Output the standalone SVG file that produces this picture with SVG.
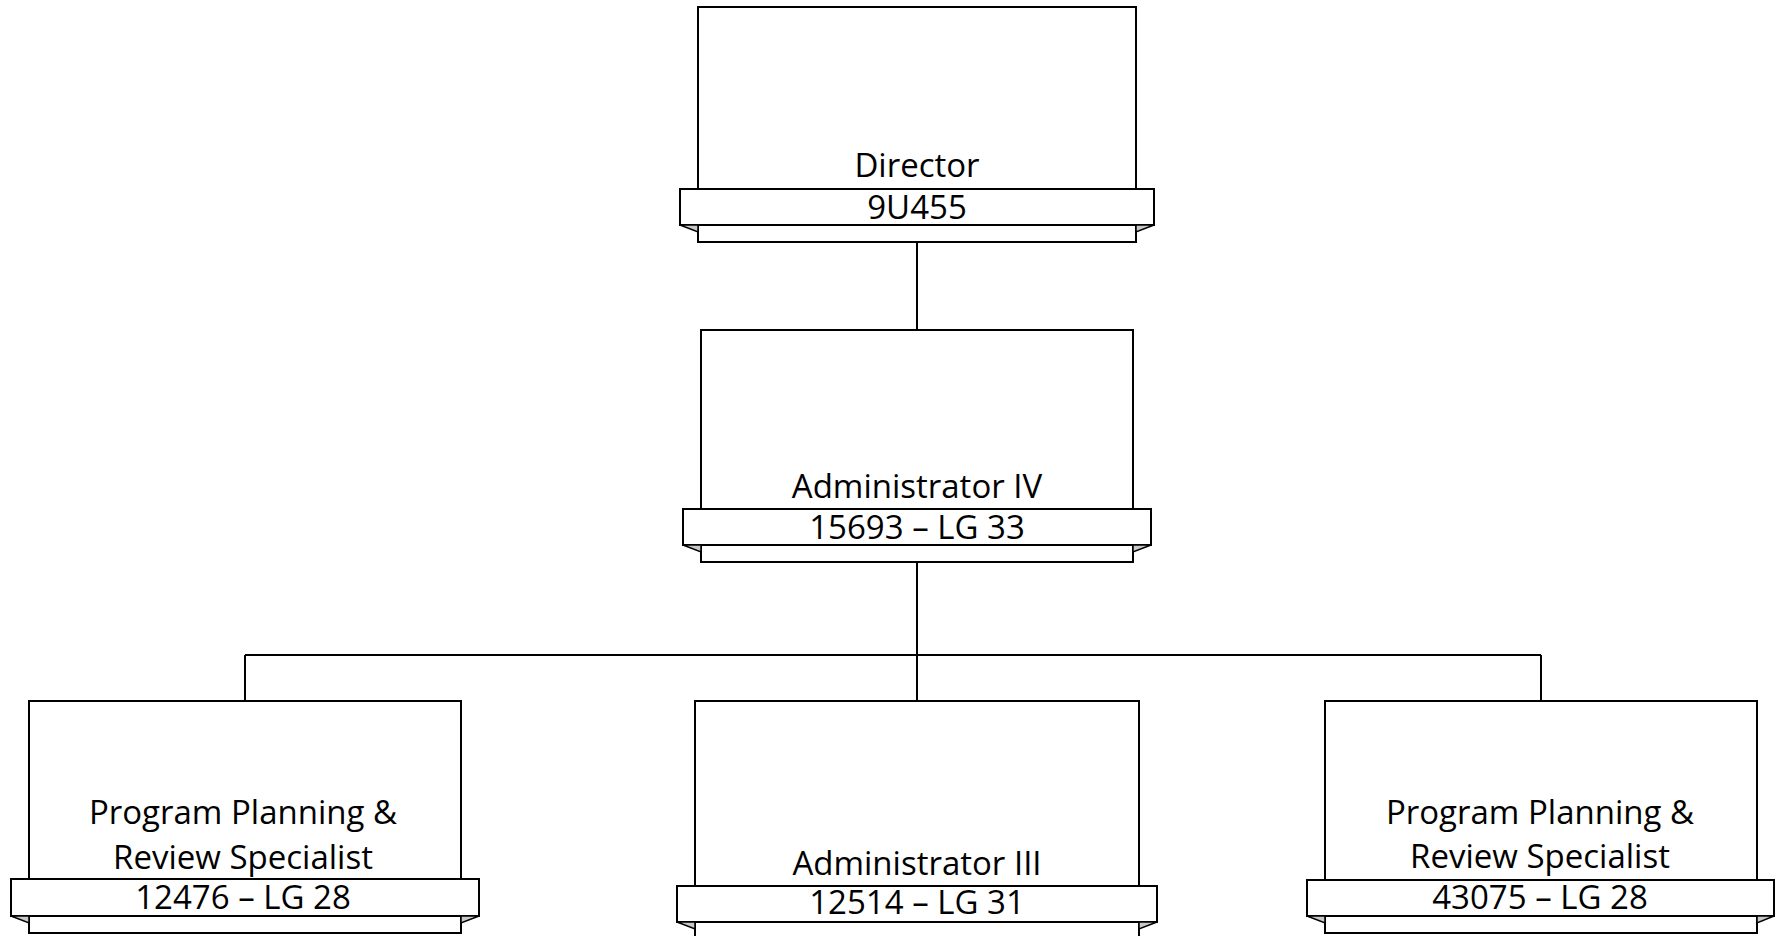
<svg xmlns="http://www.w3.org/2000/svg" width="1776" height="936" viewBox="0 0 1776 936">
<style>
.box{fill:#fff;stroke:#000;stroke-width:2}
.band{fill:#fff;stroke:#000;stroke-width:2}
.fold{fill:#c8c8c8;stroke:#000;stroke-width:1.5;stroke-linejoin:miter}
.lbl{font-family:"Open Sans","Noto Sans","Liberation Sans",sans-serif;font-size:33px;fill:#000;text-anchor:middle}
.conn{fill:none;stroke:#000;stroke-width:2}
</style>
<rect width="1776" height="936" fill="#fff"/>
<g id="connectors">
<line class="conn" x1="917" y1="242" x2="917" y2="330"/>
<line class="conn" x1="917" y1="562" x2="917" y2="701"/>
<line class="conn" x1="245" y1="655" x2="1541" y2="655"/>
<line class="conn" x1="245" y1="655" x2="245" y2="701"/>
<line class="conn" x1="1541" y1="655" x2="1541" y2="701"/>
</g>
<g id="director">
<rect class="box" x="698" y="7" width="438" height="235"/>
<rect class="band" x="680" y="189" width="474" height="36"/>
<polygon class="fold" points="680,225 698,225 698,232"/>
<polygon class="fold" points="1154,225 1136,225 1136,232"/>
<text class="lbl" x="917" y="177">Director</text>
<text class="lbl" x="917" y="219">9U455</text>
</g>
<g id="admin-iv">
<rect class="box" x="701" y="330" width="432" height="232"/>
<rect class="band" x="683" y="509" width="468" height="36"/>
<polygon class="fold" points="683,545 701,545 701,552"/>
<polygon class="fold" points="1151,545 1133,545 1133,552"/>
<text class="lbl" x="917" y="498">Administrator IV</text>
<text class="lbl" x="917" y="539">15693 – LG 33</text>
</g>
<g id="ppr-12476">
<rect class="box" x="29" y="701" width="432" height="232"/>
<rect class="band" x="11" y="879" width="468" height="37"/>
<polygon class="fold" points="11,916 29,916 29,923"/>
<polygon class="fold" points="479,916 461,916 461,923"/>
<text class="lbl" x="243" y="824">Program Planning &amp;</text>
<text class="lbl" x="243" y="869">Review Specialist</text>
<text class="lbl" x="243" y="909">12476 – LG 28</text>
</g>
<g id="admin-iii">
<rect class="box" x="695" y="701" width="444" height="260"/>
<rect class="band" x="677" y="886" width="480" height="36"/>
<polygon class="fold" points="677,922 695,922 695,929"/>
<polygon class="fold" points="1157,922 1139,922 1139,929"/>
<text class="lbl" x="917" y="875">Administrator III</text>
<text class="lbl" x="917" y="914">12514 – LG 31</text>
</g>
<g id="ppr-43075">
<rect class="box" x="1325" y="701" width="432" height="232"/>
<rect class="band" x="1307" y="880" width="467" height="36"/>
<polygon class="fold" points="1307,916 1325,916 1325,923"/>
<polygon class="fold" points="1774,916 1757,916 1757,923"/>
<text class="lbl" x="1540" y="824">Program Planning &amp;</text>
<text class="lbl" x="1540" y="868">Review Specialist</text>
<text class="lbl" x="1540" y="909">43075 – LG 28</text>
</g>
</svg>
